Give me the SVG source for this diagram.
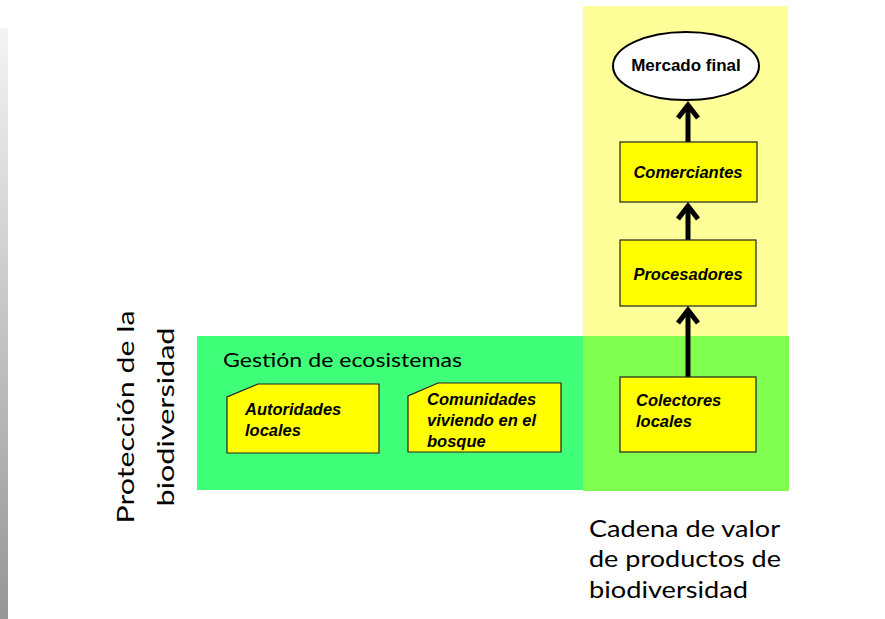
<svg xmlns="http://www.w3.org/2000/svg" width="885" height="619" viewBox="0 0 885 619">
<defs>
<linearGradient id="bar" x1="0" y1="0" x2="0" y2="1">
<stop offset="0" stop-color="#f4f4f4"/>
<stop offset="1" stop-color="#969696"/>
</linearGradient>
<marker id="chev" markerUnits="userSpaceOnUse" markerWidth="30" markerHeight="30" refX="0" refY="0" viewBox="-20 -15 30 30" orient="auto" overflow="visible">
<path d="M -13 -10 L 0 0 L -13 10" fill="none" stroke="#000" stroke-width="5" stroke-linejoin="miter"/>
</marker>
<style>
.box{fill:#ffff00;stroke:#222;stroke-width:1.2}
.lbl{font-family:"Liberation Sans",Arial,sans-serif;font-weight:bold;font-style:italic;font-size:16.5px;fill:#000}
.cal{font-family:Lato,"Open Sans",sans-serif;fill:#000}
.conn{stroke:#000;stroke-width:5;fill:none;marker-end:url(#chev)}
</style>
</defs>
<rect width="885" height="619" fill="#fff"/>
<rect x="0" y="28" width="8" height="591" fill="url(#bar)"/>
<rect x="583" y="6" width="205" height="330" fill="#ffff99"/>
<rect x="197" y="336" width="386" height="154" fill="#40ff78"/>
<rect x="583" y="336" width="206" height="155" fill="#80ff50"/>
<text class="cal" x="223" y="367" font-size="20" textLength="239" lengthAdjust="spacingAndGlyphs">Gestión de ecosistemas</text>
<g class="cal" font-size="24">
<text x="589" y="537" textLength="191" lengthAdjust="spacingAndGlyphs">Cadena de valor</text>
<text x="589" y="567" textLength="192" lengthAdjust="spacingAndGlyphs">de productos de</text>
<text x="589" y="598" textLength="159" lengthAdjust="spacingAndGlyphs">biodiversidad</text>
</g>
<g class="cal" font-size="24" text-anchor="middle">
<text transform="translate(134 417) rotate(-90)" textLength="213" lengthAdjust="spacingAndGlyphs">Protección de la</text>
<text transform="translate(174 417) rotate(-90)" textLength="179" lengthAdjust="spacingAndGlyphs">biodiversidad</text>
</g>
<g id="connectors">
<line class="conn" x1="688" y1="377" x2="688" y2="310"/>
<line class="conn" x1="688" y1="240" x2="688" y2="206"/>
<line class="conn" x1="688" y1="142" x2="688" y2="105"/>
</g>
<g id="mercado">
<ellipse cx="686" cy="66" rx="73" ry="34" fill="#fff" stroke="#000" stroke-width="2"/>
<text x="686" y="71" text-anchor="middle" font-family="Liberation Sans, Arial, sans-serif" font-weight="bold" font-size="17">Mercado final</text>
</g>
<g id="comerciantes">
<rect class="box" x="620" y="142" width="137" height="60"/>
<text class="lbl" x="688" y="178" text-anchor="middle">Comerciantes</text>
</g>
<g id="procesadores">
<rect class="box" x="620" y="240" width="136" height="66"/>
<text class="lbl" x="688" y="280" text-anchor="middle">Procesadores</text>
</g>
<g id="colectores">
<rect class="box" x="620" y="377" width="136" height="75"/>
<text class="lbl" x="636" y="406">Colectores</text>
<text class="lbl" x="636" y="427">locales</text>
</g>
<g id="autoridades">
<polygon class="box" points="258,384 379,384 379,453 227,453 227,397"/>
<text class="lbl" x="245" y="415">Autoridades</text>
<text class="lbl" x="245" y="436">locales</text>
</g>
<g id="comunidades">
<polygon class="box" points="438,383 561,383 561,452 408,452 408,396"/>
<text class="lbl" x="427" y="405">Comunidades</text>
<text class="lbl" x="427" y="426">viviendo en el</text>
<text class="lbl" x="427" y="447">bosque</text>
</g>
</svg>
